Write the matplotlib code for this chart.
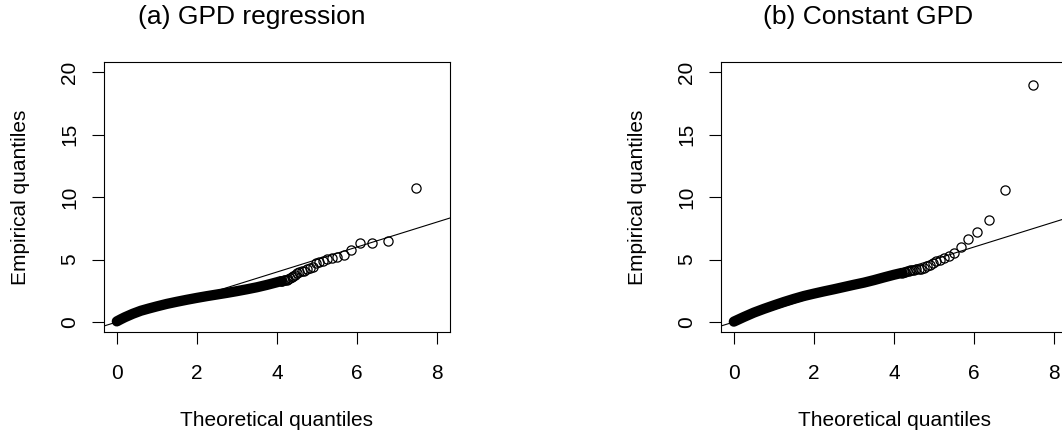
import matplotlib
matplotlib.use("Agg")
import matplotlib.pyplot as plt

# QQ-plot data (theoretical vs empirical quantiles)
titles = ["(a) GPD regression", "(b) Constant GPD"]
xticks = [0, 2, 4, 6, 8]
yticks = [0, 5, 10, 15, 20]

# dense part of each cloud (points overlap into a solid band)
band_a_x = [0.0, 0.1, 0.2, 0.4, 0.6, 0.8, 1.0, 1.25, 1.5, 1.75, 2.0,
            2.25, 2.5, 2.75, 3.0, 3.25, 3.5, 3.75, 4.0, 4.1]
band_a_y = [0.05, 0.22, 0.38, 0.66, 0.9, 1.08, 1.25, 1.45, 1.62, 1.78, 1.93,
            2.07, 2.2, 2.33, 2.47, 2.62, 2.78, 2.97, 3.18, 3.27]
band_b_x = [0.0, 0.25, 0.5, 0.75, 1.0, 1.25, 1.5, 1.75, 2.0, 2.25, 2.5,
            2.75, 3.0, 3.25, 3.5, 3.75, 4.0, 4.2]
band_b_y = [0.03, 0.4, 0.75, 1.05, 1.33, 1.6, 1.85, 2.08, 2.27, 2.45, 2.62,
            2.8, 2.98, 3.15, 3.35, 3.57, 3.78, 3.93]

# sparse upper tail, single points
tail_a_x = [7.46, 6.77, 6.36, 6.07, 5.85, 5.67, 5.51, 5.38, 5.26, 5.16, 5.06,
            4.97, 4.89, 4.82, 4.75, 4.68, 4.62, 4.56, 4.51, 4.46, 4.41, 4.37,
            4.32, 4.28, 4.24, 4.20, 4.17, 4.13, 4.10]
tail_a_y = [10.7, 6.5, 6.35, 6.35, 5.8, 5.36, 5.17, 5.09, 5.01, 4.9, 4.83,
            4.69, 4.43, 4.3, 4.22, 4.12, 4.05, 3.98, 3.9, 3.8, 3.7, 3.6,
            3.5, 3.45, 3.4, 3.36, 3.33, 3.3, 3.27]
tail_b_x = [7.46, 6.77, 6.36, 6.07, 5.85, 5.67, 5.51, 5.38, 5.26, 5.16, 5.06,
            4.97, 4.89, 4.82, 4.75, 4.68, 4.62, 4.56, 4.51, 4.46, 4.41, 4.37,
            4.32, 4.28, 4.24, 4.20]
tail_b_y = [18.95, 10.6, 8.16, 7.23, 6.61, 6.03, 5.49, 5.28, 5.09, 4.98, 4.85,
            4.72, 4.6, 4.45, 4.32, 4.26, 4.24, 4.22, 4.2, 4.18, 4.15, 4.1,
            4.05, 4.0, 3.97, 3.94]

plt.rcParams["font.family"] = "Liberation Sans"
plt.rcParams["font.size"] = 15

fig = plt.figure(figsize=(10.62, 4.34), dpi=100)
W, H = 1062.0, 434.0
bottom = (H - 332) / H
height = 270 / H
ax1 = fig.add_axes([104 / W, bottom, 346 / W, height])
ax2 = fig.add_axes([721 / W, bottom, 346 / W, height])

panels = [(ax1, band_a_x, band_a_y, tail_a_x, tail_a_y),
          (ax2, band_b_x, band_b_y, tail_b_x, tail_b_y)]

for i, (ax, bx, by, tx, ty) in enumerate(panels):
    ax.axline((0, 0), slope=1, color="black", lw=0.8)
    ax.plot(bx, by, "-", color="black", lw=7.4, solid_capstyle="round")
    ax.plot(tx, ty, linestyle="None", marker="o", markerfacecolor="none",
            markeredgecolor="black", markersize=6.6, markeredgewidth=0.9)
    ax.set_xlim(-0.32, 8.32)
    ax.set_ylim(-0.8, 20.8)
    ax.set_xticks(xticks)
    ax.set_yticks(yticks)
    ax.tick_params(axis="both", direction="out", length=8.6, width=0.8,
                   labelsize=15, color="black")
    ax.tick_params(axis="x", pad=14.5)
    ax.tick_params(axis="y", pad=9.4, labelrotation=90)
    for lab in ax.get_yticklabels():
        lab.set_va("center")
    for s in ax.spines.values():
        s.set_linewidth(0.8)
    ax.set_xlabel("Theoretical quantiles", va="center")
    ax.xaxis.set_label_coords(0.5, -0.326)
    ax.set_ylabel("Empirical quantiles", va="center")
    ax.yaxis.set_label_coords(-0.24, 0.5)
    ax.set_title(titles[i], fontsize=19, x=0.426, y=1.167, va="center", pad=0)

fig.savefig("out.png", dpi=100)
